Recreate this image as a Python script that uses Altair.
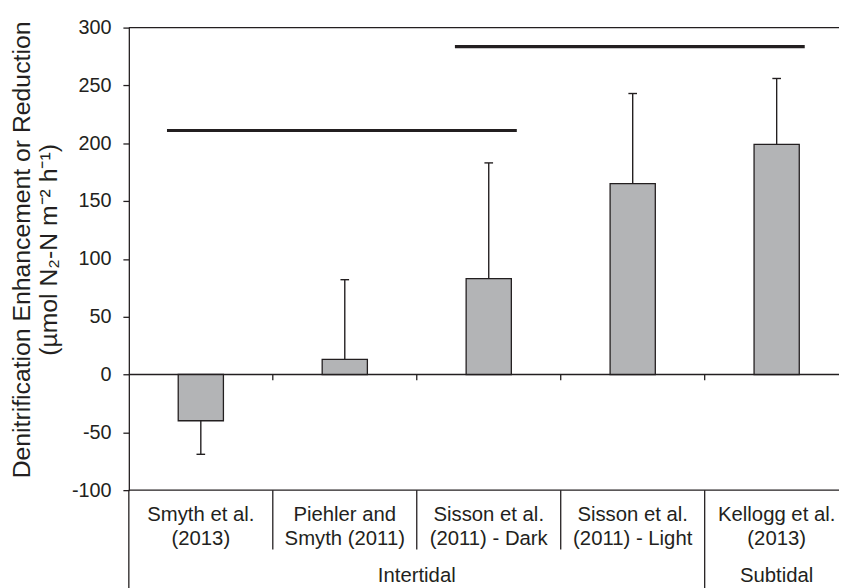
import altair as alt
import pandas as pd

# ---- data ----
studies = ["Smyth et al.\n(2013)", "Piehler and\nSmyth (2011)", "Sisson et al.\n(2011) - Dark",
           "Sisson et al.\n(2011) - Light", "Kellogg et al.\n(2013)"]
habitats = ["Intertidal", "Intertidal", "Intertidal", "Intertidal", "Subtidal"]
means = [-40, 13, 83, 165, 199]
errors = [29, 69, 100, 78, 57]          # one-sided error, drawn away from zero
sig_start = [0, 2]                      # index of first study in each group
sig_end = [2, 4]                        # index of last study in each group
sig_level = [211, 283.5]
y_ticks = [-100, -50, 0, 50, 100, 150, 200, 250, 300]

INK = "#231f20"
FONT = "Liberation Sans"
W, H = 717, 467
XMAX = 4.933          # plot is cropped on the right like the reference
BAR_HALF = 0.157
CAP_HALF = 0.03

n = len(studies)
bars = pd.DataFrame({
    "study": studies,
    "habitat": habitats,
    "mean": means,
    "c": [i + 0.5 for i in range(n)],
})
bars["x0"] = bars["c"] - BAR_HALF
bars["x1"] = bars["c"] + BAR_HALF
bars["zero"] = 0
bars["tip"] = [m + (e if m >= 0 else -e) for m, e in zip(means, errors)]
bars["cap0"] = bars["c"] - CAP_HALF
bars["cap1"] = bars["c"] + CAP_HALF

sig = pd.DataFrame({
    "x0": [s + 0.5 - 0.235 for s in sig_start],
    "x1": [e + 0.5 + 0.195 for e in sig_end],
    "y": sig_level,
})

bounds = pd.DataFrame({"b": [float(i) for i in range(1, n)]})
inner_bounds = pd.DataFrame({"b": [1.0, 2.0, 3.0]})
habitat_bound = pd.DataFrame({"b": [4.0]})
groups = pd.DataFrame({"habitat": ["Intertidal", "Subtidal"], "c": [2.0, 4.5]})
hlines = pd.DataFrame({"y": [300, 0, -100]})

xs = alt.Scale(domain=[0, XMAX], nice=False, zero=False)
ys = alt.Scale(domain=[-100, 300], nice=False, zero=False)

yaxis = alt.Axis(
    values=y_ticks, grid=False, labelFontSize=20, labelColor=INK, labelFont=FONT,
    labelExpr="datum.value + ''",
    labelPadding=12, tickSize=6, tickColor=INK, tickWidth=1.3,
    domainColor=INK, domainWidth=1.3,
    title=["Denitrification Enhancement or Reduction", "(µmol N₂-N m⁻² h⁻¹)"],
    titleFontSize=25, titleFont=FONT, titleFontWeight="normal", titleColor=INK,
    titleAngle=270, titleAlign="center", titleBaseline="alphabetic",
    titleLineHeight=27, titleX=-100, titleY=224,
)

sig_layer = alt.Chart(sig).mark_rule(color=INK, strokeWidth=3.2).encode(
    x=alt.X("x0:Q", scale=xs, axis=None), x2="x1:Q",
    y=alt.Y("y:Q", scale=ys, axis=yaxis),
)

h_layer = alt.Chart(hlines).mark_rule(color=INK, strokeWidth=1.3).encode(
    x=alt.value(0), x2=alt.value(W + 20), y="y:Q",
)

zero_ticks = alt.Chart(bounds).mark_rule(color=INK, strokeWidth=1.3).encode(
    x="b:Q", y=alt.value(350), y2=alt.value(356),
)

sep_inner = alt.Chart(inner_bounds).mark_rule(color=INK, strokeWidth=1.3).encode(
    x="b:Q", y=alt.value(H), y2=alt.value(527),
)
sep_habitat = alt.Chart(habitat_bound).mark_rule(color=INK, strokeWidth=1.3).encode(
    x="b:Q", y=alt.value(H), y2=alt.value(580),
)
left_ext = alt.Chart(habitat_bound).mark_rule(color=INK, strokeWidth=1.3).encode(
    x=alt.value(0), y=alt.value(H), y2=alt.value(580),
)

bar_layer = alt.Chart(bars).mark_bar(fill="#b3b4b6", stroke=INK, strokeWidth=1.3).encode(
    x="x0:Q", x2="x1:Q", y="mean:Q", y2="zero:Q",
)
err_layer = alt.Chart(bars).mark_rule(color=INK, strokeWidth=1.4).encode(
    x="c:Q", y="mean:Q", y2="tip:Q",
)
cap_layer = alt.Chart(bars).mark_rule(color=INK, strokeWidth=1.4).encode(
    x="cap0:Q", x2="cap1:Q", y="tip:Q",
)

cat_labels = alt.Chart(bars).mark_text(
    font=FONT, fontSize=20.5, color=INK, align="center", baseline="alphabetic",
    lineBreak="\n", lineHeight=23.6,
).encode(x="c:Q", y=alt.value(498.5), text="study:N")

grp_labels = alt.Chart(groups).mark_text(
    font=FONT, fontSize=20.5, color=INK, align="center", baseline="alphabetic",
).encode(x="c:Q", y=alt.value(560), text="habitat:N")

chart = alt.layer(
    sig_layer, h_layer, zero_ticks, sep_inner, sep_habitat, left_ext,
    bar_layer, err_layer, cap_layer, cat_labels, grp_labels,
).properties(
    width=W, height=H,
    autosize=alt.AutoSizeParams(type="none"),
    padding={"left": 122, "top": 17, "right": 0, "bottom": 96},
    background="white",
).configure_view(stroke=None)

chart.save("out.html", embed_options={"renderer": "svg", "actions": False})
